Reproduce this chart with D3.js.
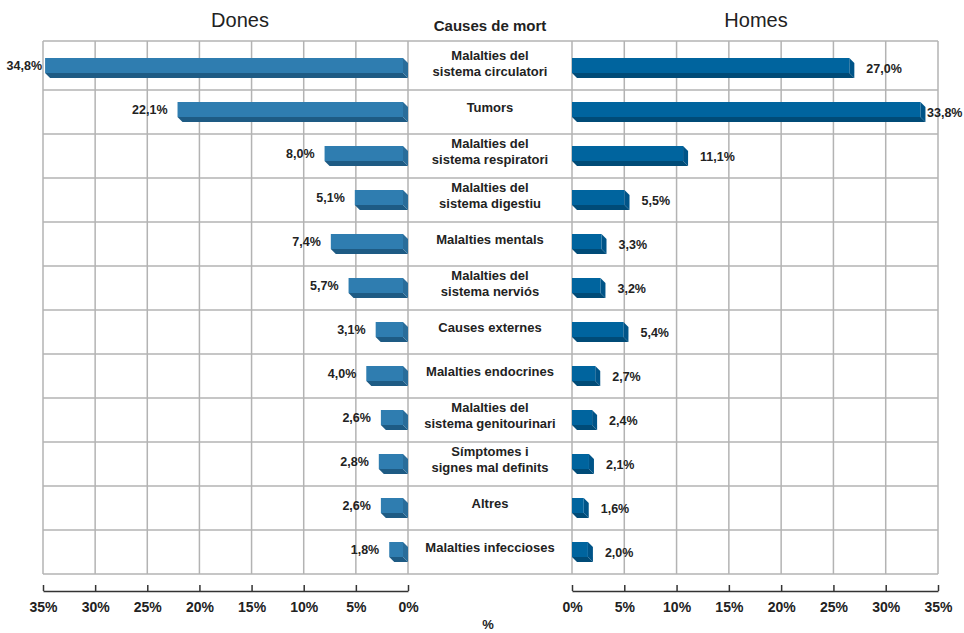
<!DOCTYPE html>
<html>
<head>
<meta charset="utf-8">
<script src="https://cdn.jsdelivr.net/npm/d3@7"></script>
<style>
  html, body { margin: 0; padding: 0; background: #fff; }
  svg { display: block; font-family: "Liberation Sans", Arial, Helvetica, sans-serif; }
</style>
</head>
<body>
<div id="chart"></div>
<script>
// Causes de mort (dades)
const causes = [
    'Malalties del\nsistema circulatori',
    'Tumors',
    'Malalties del\nsistema respiratori',
    'Malalties del\nsistema digestiu',
    'Malalties mentals',
    'Malalties del\nsistema nerviós',
    'Causes externes',
    'Malalties endocrines',
    'Malalties del\nsistema genitourinari',
    'Símptomes i\nsignes mal definits',
    'Altres',
    'Malalties infeccioses'
];
const dones = [34.8, 22.1, 8.0, 5.1, 7.4, 5.7, 3.1, 4.0, 2.6, 2.8, 2.6, 1.8];
const homes = [27.0, 33.8, 11.1, 5.5, 3.3, 3.2, 5.4, 2.7, 2.4, 2.1, 1.6, 2.0];
const tickValues = [0, 5, 10, 15, 20, 25, 30, 35];

class PyramidChart {
    constructor(containerId, width = 964, height = 633) {
        this.containerId = containerId;
        this.width = width;
        this.height = height;
        this.gridTop = 41;
        this.rowTop = 46;
        this.gridBottom = 574;
        this.depth = 5;
        this.faceHeight = 15;
        this.fmt = v => d3.format('.1f')(v).replace('.', ',') + '%';
    }

    init() {
        this.svg = d3.select(this.containerId)
            .append('svg')
            .attr('width', this.width)
            .attr('height', this.height);

        this.xLeft = d3.scaleLinear().domain([0, 35]).range([408, 43]);
        this.xRight = d3.scaleLinear().domain([0, 35]).range([572, 938]);
        this.y = d3.scaleBand().domain(d3.range(causes.length))
            .range([this.rowTop, this.gridBottom]);
    }

    draw() {
        this.init();
        this.drawGrid();
        this.drawTitles();
        this.drawCauses();
        this.drawBars(dones, this.xLeft, -1, { front: '#2f7db0', bottom: '#1e5b84', side: '#2a6d9a' });
        this.drawBars(homes, this.xRight, 1, { front: '#00649e', bottom: '#004b77', side: '#005488' });
        this.drawAxes();
    }

    drawGrid() {
        const g = this.svg.append('g')
            .attr('stroke', '#b3b3b3')
            .attr('stroke-width', 1.5)
            .attr('fill', 'none');

        // vertical lines
        [this.xLeft, this.xRight].forEach(x => {
            g.selectAll(null)
                .data(tickValues)
                .enter()
                .append('line')
                .attr('x1', d => x(d)).attr('x2', d => x(d))
                .attr('y1', this.gridTop).attr('y2', this.gridBottom);
        });

        // horizontal lines
        const ys = [this.gridTop].concat(d3.range(1, causes.length + 1).map(i => this.rowTop + i * this.y.step()));
        g.selectAll(null)
            .data(ys)
            .enter()
            .append('line')
            .attr('x1', this.xLeft(35)).attr('x2', this.xRight(35))
            .attr('y1', d => d).attr('y2', d => d);
    }

    drawTitles() {
        this.svg.append('text')
            .attr('x', 240).attr('y', 27)
            .attr('text-anchor', 'middle')
            .attr('font-size', '20px')
            .attr('fill', '#222')
            .text('Dones');

        this.svg.append('text')
            .attr('x', 756).attr('y', 27)
            .attr('text-anchor', 'middle')
            .attr('font-size', '20px')
            .attr('fill', '#222')
            .text('Homes');

        this.svg.append('text')
            .attr('x', 490).attr('y', 31)
            .attr('text-anchor', 'middle')
            .attr('font-size', '15px')
            .attr('font-weight', 'bold')
            .attr('fill', '#222')
            .text('Causes de mort');
    }

    drawCauses() {
        const cx = (this.xLeft(0) + this.xRight(0)) / 2;
        const rows = this.svg.selectAll('.cause')
            .data(causes)
            .enter()
            .append('text')
            .attr('class', 'cause')
            .attr('text-anchor', 'middle')
            .attr('font-size', '13px')
            .attr('font-weight', 'bold')
            .attr('fill', '#222');

        rows.each((d, i, nodes) => {
            const lines = d.split('\n');
            const c = this.y(i) + this.y.bandwidth() / 2 - 3;
            const t = d3.select(nodes[i]);
            lines.forEach((line, k) => {
                t.append('tspan')
                    .attr('x', cx)
                    .attr('y', c + (k - (lines.length - 1) / 2) * 16)
                    .attr('dominant-baseline', 'middle')
                    .text(line);
            });
        });
    }

    drawBars(values, x, dir, colors) {
        const dep = this.depth;
        const h = this.faceHeight;
        const g = this.svg.append('g');

        values.forEach((v, i) => {
            const cy = this.y(i) + this.y.bandwidth() / 2;
            const y0 = cy - 10;
            const y1 = y0 + h;
            let fx0, fx1;
            if (dir < 0) {
                fx0 = x(v);
                fx1 = x(0) - dep;
            } else {
                fx0 = x(0);
                fx1 = x(v) - dep;
            }

            // bottom face
            g.append('polygon')
                .attr('points', [[fx0, y1], [fx1, y1], [fx1 + dep, y1 + dep], [fx0 + dep, y1 + dep]].join(' '))
                .attr('fill', colors.bottom);
            // side face
            g.append('polygon')
                .attr('points', [[fx1, y0], [fx1 + dep, y0 + dep], [fx1 + dep, y1 + dep], [fx1, y1]].join(' '))
                .attr('fill', colors.side);
            // front face
            g.append('rect')
                .attr('x', fx0).attr('y', y0)
                .attr('width', fx1 - fx0).attr('height', h)
                .attr('fill', colors.front);

            // value label
            const label = g.append('text')
                .attr('font-size', '12.5px')
                .attr('font-weight', 'bold')
                .attr('fill', '#222')
                .attr('dominant-baseline', 'middle')
                .text(this.fmt(v));
            if (dir < 0) {
                label.attr('x', Math.max(x(v) - 10, 42))
                    .attr('y', cy - 1)
                    .attr('text-anchor', 'end');
            } else {
                label.attr('x', Math.min(x(v) + 12, 927))
                    .attr('y', cy + 2)
                    .attr('text-anchor', 'start');
            }
        });
    }

    drawAxes() {
        const axisY = 591;
        [this.xLeft, this.xRight].forEach(x => {
            const axis = d3.axisTop(x)
                .tickValues(tickValues)
                .tickSize(6)
                .tickSizeOuter(0)
                .tickFormat(d => d + '%');
            const g = this.svg.append('g')
                .attr('transform', `translate(0,${axisY})`)
                .call(axis);
            g.select('.domain').attr('stroke', '#333').attr('stroke-width', 1.5);
            g.selectAll('.tick line').attr('stroke', '#333').attr('stroke-width', 1.5);
            g.selectAll('.tick text')
                .attr('y', 16)
                .attr('dy', '0.35em')
                .attr('fill', '#222')
                .attr('font-size', '14px')
                .attr('font-weight', 'bold')
                .attr('font-family', '"Liberation Sans", Arial, sans-serif');
        });

        this.svg.append('text')
            .attr('x', 488).attr('y', 629)
            .attr('text-anchor', 'middle')
            .attr('font-size', '13px')
            .attr('font-weight', 'bold')
            .attr('fill', '#222')
            .text('%');
    }
}

const chart = new PyramidChart('#chart');
chart.draw();
</script>
</body>
</html>
